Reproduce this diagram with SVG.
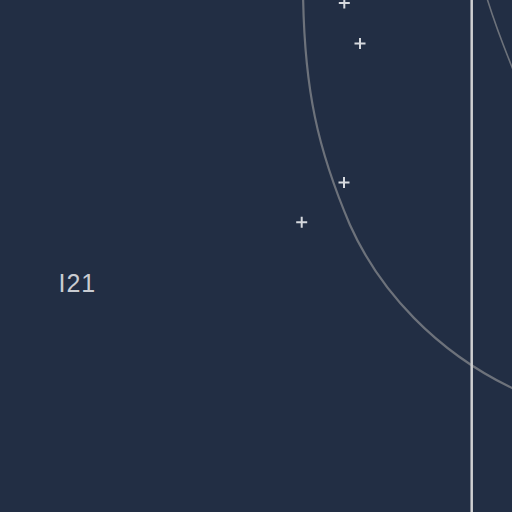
<svg xmlns="http://www.w3.org/2000/svg" width="512" height="512" viewBox="0 0 512 512">
  <defs>
    <style>
      .orbit{fill:none;stroke:#6d727b;stroke-width:2.2}
      .orbit2{fill:none;stroke:#6d727b;stroke-width:1.6}
      .axis{fill:none;stroke:#cfd0d2;stroke-width:2.5}
      .mark{fill:none;stroke:#d6d9de;stroke-width:2}
      .label{font-family:"Liberation Sans",Arial,sans-serif;font-size:25px;fill:#c9ccd2;letter-spacing:1px}
    </style>
    <path id="plus" class="mark" d="M-5.5,0 H5.5 M0,-5.5 V5.5"/>
  </defs>
  <rect width="512" height="512" fill="#222e44"/>
  <g id="connectors">
    <path id="orbit-large" class="orbit" d="M303,-10 C304,90 318,150 350,225 C380,292 437,352 512,388 L530,397"/>
    <path id="orbit-small" class="orbit2" d="M486,-5 C492,15 503,45 514,72"/>
    <line id="axis" class="axis" x1="471.7" y1="0" x2="471.7" y2="512"/>
  </g>
  <g id="node-p1"><use href="#plus" x="344.3" y="3"/></g>
  <g id="node-p2"><use href="#plus" x="360" y="43.5"/></g>
  <g id="node-p3"><use href="#plus" x="344" y="182.5"/></g>
  <g id="node-p4"><use href="#plus" x="301.7" y="222.3"/></g>
  <g id="node-label"><text class="label" x="58.5" y="292">I21</text></g>
</svg>
